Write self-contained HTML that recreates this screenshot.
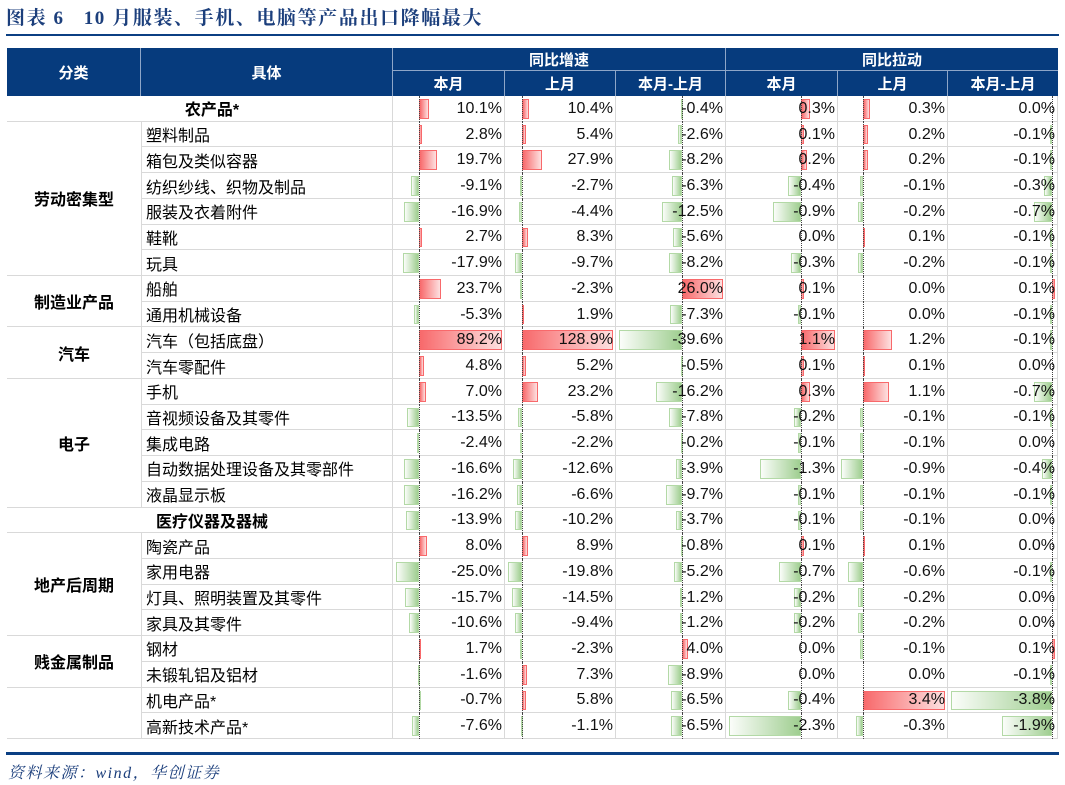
<!DOCTYPE html>
<html><head><meta charset="utf-8">
<style>
body{margin:0;width:1065px;height:785px;background:#fff;position:relative;overflow:hidden;font-family:"Liberation Sans","Noto Sans CJK SC",sans-serif;}
.a{position:absolute;box-sizing:border-box;}
.t{white-space:nowrap;}
</style></head><body>
<div class="a t" style="left:6px;top:3px;font-family:'Liberation Serif','Noto Serif CJK SC',serif;font-weight:bold;font-size:19px;letter-spacing:1.6px;color:#1c3f7c;">图表 6&nbsp;&nbsp;&nbsp;10 月服装、手机、电脑等产品出口降幅最大</div>
<div class="a" style="left:6px;top:34px;width:1053px;height:2px;background:#0b3f83"></div>
<div id="tbl"></div>
<div class="a" style="left:6px;top:752px;width:1053px;height:3px;background:#0b3f83"></div>
<div class="a t" style="left:8px;top:760px;font-family:'Liberation Serif','Noto Serif CJK SC',serif;font-style:italic;font-size:16px;letter-spacing:1.5px;color:#1c3f7c;">资料来源：wind，华创证券</div>
<script>
const items=["农产品*","塑料制品","箱包及类似容器","纺织纱线、织物及制品","服装及衣着附件","鞋靴","玩具","船舶","通用机械设备","汽车（包括底盘）","汽车零配件","手机","音视频设备及其零件","集成电路","自动数据处理设备及其零部件","液晶显示板","医疗仪器及器械","陶瓷产品","家用电器","灯具、照明装置及其零件","家具及其零件","钢材","未锻轧铝及铝材","机电产品*","高新技术产品*"];
const growthCur=[10.1,2.8,19.7,-9.1,-16.9,2.7,-17.9,23.7,-5.3,89.2,4.8,7.0,-13.5,-2.4,-16.6,-16.2,-13.9,8.0,-25.0,-15.7,-10.6,1.7,-1.6,-0.7,-7.6];
const growthPrev=[10.4,5.4,27.9,-2.7,-4.4,8.3,-9.7,-2.3,1.9,128.9,5.2,23.2,-5.8,-2.2,-12.6,-6.6,-10.2,8.9,-19.8,-14.5,-9.4,-2.3,7.3,5.8,-1.1];
const growthDiff=[-0.4,-2.6,-8.2,-6.3,-12.5,-5.6,-8.2,26.0,-7.3,-39.6,-0.5,-16.2,-7.8,-0.2,-3.9,-9.7,-3.7,-0.8,-5.2,-1.2,-1.2,4.0,-8.9,-6.5,-6.5];
const pullCur=[0.3,0.1,0.2,-0.4,-0.9,0.0,-0.3,0.1,-0.1,1.1,0.1,0.3,-0.2,-0.1,-1.3,-0.1,-0.1,0.1,-0.7,-0.2,-0.2,0.0,0.0,-0.4,-2.3];
const pullPrev=[0.3,0.2,0.2,-0.1,-0.2,0.1,-0.2,0.0,0.0,1.2,0.1,1.1,-0.1,-0.1,-0.9,-0.1,-0.1,0.1,-0.6,-0.2,-0.2,-0.1,0.0,3.4,-0.3];
const pullDiff=[0.0,-0.1,-0.1,-0.3,-0.7,-0.1,-0.1,0.1,-0.1,-0.1,0.0,-0.7,-0.1,0.0,-0.4,-0.1,0.0,0.0,-0.1,0.0,0.0,0.1,-0.1,-3.8,-1.9];
const groups=[["",0,1,true],["劳动密集型",1,6],["制造业产品",7,2],["汽车",9,2],["电子",11,5],["",16,1,true],["地产后周期",17,4],["贱金属制品",21,2],["",23,2]];
const T=document.getElementById('tbl');
function box(name,l,t,w,h,css,txt){const d=document.createElement('div');d.className='a t';


d.style.cssText+=`left:${l}px;top:${t}px;width:${w}px;height:${h}px;`+css;if(txt!==undefined)d.textContent=txt;T.appendChild(d);return d;}
const NAVY='#063b7d';
const X=[7,141,393,505,616,726,838,948,1058];
const H0=48,H1=71,H2=96,RH=25.72;
box('header-bg',7,H0,1051,H2-H0,`background:${NAVY}`);
const hc='color:#fff;font-weight:bold;font-size:15px;display:flex;align-items:center;justify-content:center;';
box('header-category',X[0],H0,X[1]-X[0],H2-H0,hc+'border-right:1px solid #8ea6c8','分类');
box('header-item',X[1],H0,X[2]-X[1],H2-H0,hc+'border-right:1px solid #8ea6c8','具体');
box('header-growth',X[2],H0,X[5]-X[2],H1-H0,hc+'border-right:1px solid #8ea6c8;border-bottom:1px solid #8ea6c8','同比增速');
box('header-pull',X[5],H0,X[8]-X[5],H1-H0,hc+'border-bottom:1px solid #8ea6c8','同比拉动');
const sub=['本月','上月','本月-上月','本月','上月','本月-上月'];
for(let i=0;i<6;i++)box('header-sub-'+i,X[i+2],H1,X[i+3]-X[i+2],H2-H1,hc+(i<5?'border-right:1px solid #8ea6c8':''),sub[i]);
const cols=[growthCur,growthPrev,growthDiff,pullCur,pullPrev,pullDiff];
items.forEach((it,r)=>{
 const y=H2+r*RH;
 const g=groups.find(g=>r>=g[1]&&r<g[1]+g[2]);
 if(g[3]){box('item-'+r,X[0],y,X[2]-X[0],RH,'font-weight:bold;font-size:16px;display:flex;align-items:center;justify-content:center;border-bottom:1px solid #d9d9d9;border-right:1px solid #d9d9d9;padding-left:25px',it);}
 else box('item-'+r,X[1],y,X[2]-X[1],RH,'font-size:16px;display:flex;align-items:center;padding-left:4px;border-bottom:1px solid #d9d9d9;border-right:1px solid #d9d9d9;border-left:1px solid #d9d9d9',it);
 cols.forEach((arr,c)=>{
  const l=X[c+2],w=X[c+3]-X[c+2];
  box('cell-'+r+'-'+c,l,y,w,RH,'border-bottom:1px solid #d9d9d9;border-right:1px solid #d9d9d9');
  const mn=Math.min(0,...arr),mx=Math.max(0,...arr);
  const iw=w-6,s=iw/(mx-mn),ax=l+3+(-mn)*s,v=arr[r];
  const bw=Math.abs(v)*s;
  if(bw>0.3){
   const pos=v>0;
   const css=pos?'background:linear-gradient(to right,#f8696b,#fde0e0);border:1px solid #f8696b':'background:linear-gradient(to right,#fbfdfa,#9fce90);border:1px solid #b3d9a6';
   box('bar-'+r+'-'+c,pos?ax:ax-bw,y+3,Math.max(bw,1.5),RH-6,css);
  }
  if(mn<0&&mx>0){box('axis-'+r+'-'+c,ax,y,1,RH,'border-left:1px dotted #444');}
  box('value-'+r+'-'+c,l,y,w,RH,'font-size:16px;display:flex;align-items:center;justify-content:flex-end;padding-right:3px;color:#111',v.toFixed(1)+'%');
 });
});
groups.forEach((g,i)=>{
 if(g[3])return;
 box('group-'+i,X[0],H2+g[1]*RH,X[1]-X[0],g[2]*RH,'font-weight:bold;font-size:16px;display:flex;align-items:center;justify-content:center;border-bottom:1px solid #d9d9d9',g[0]);
});
</script>
</body></html>
